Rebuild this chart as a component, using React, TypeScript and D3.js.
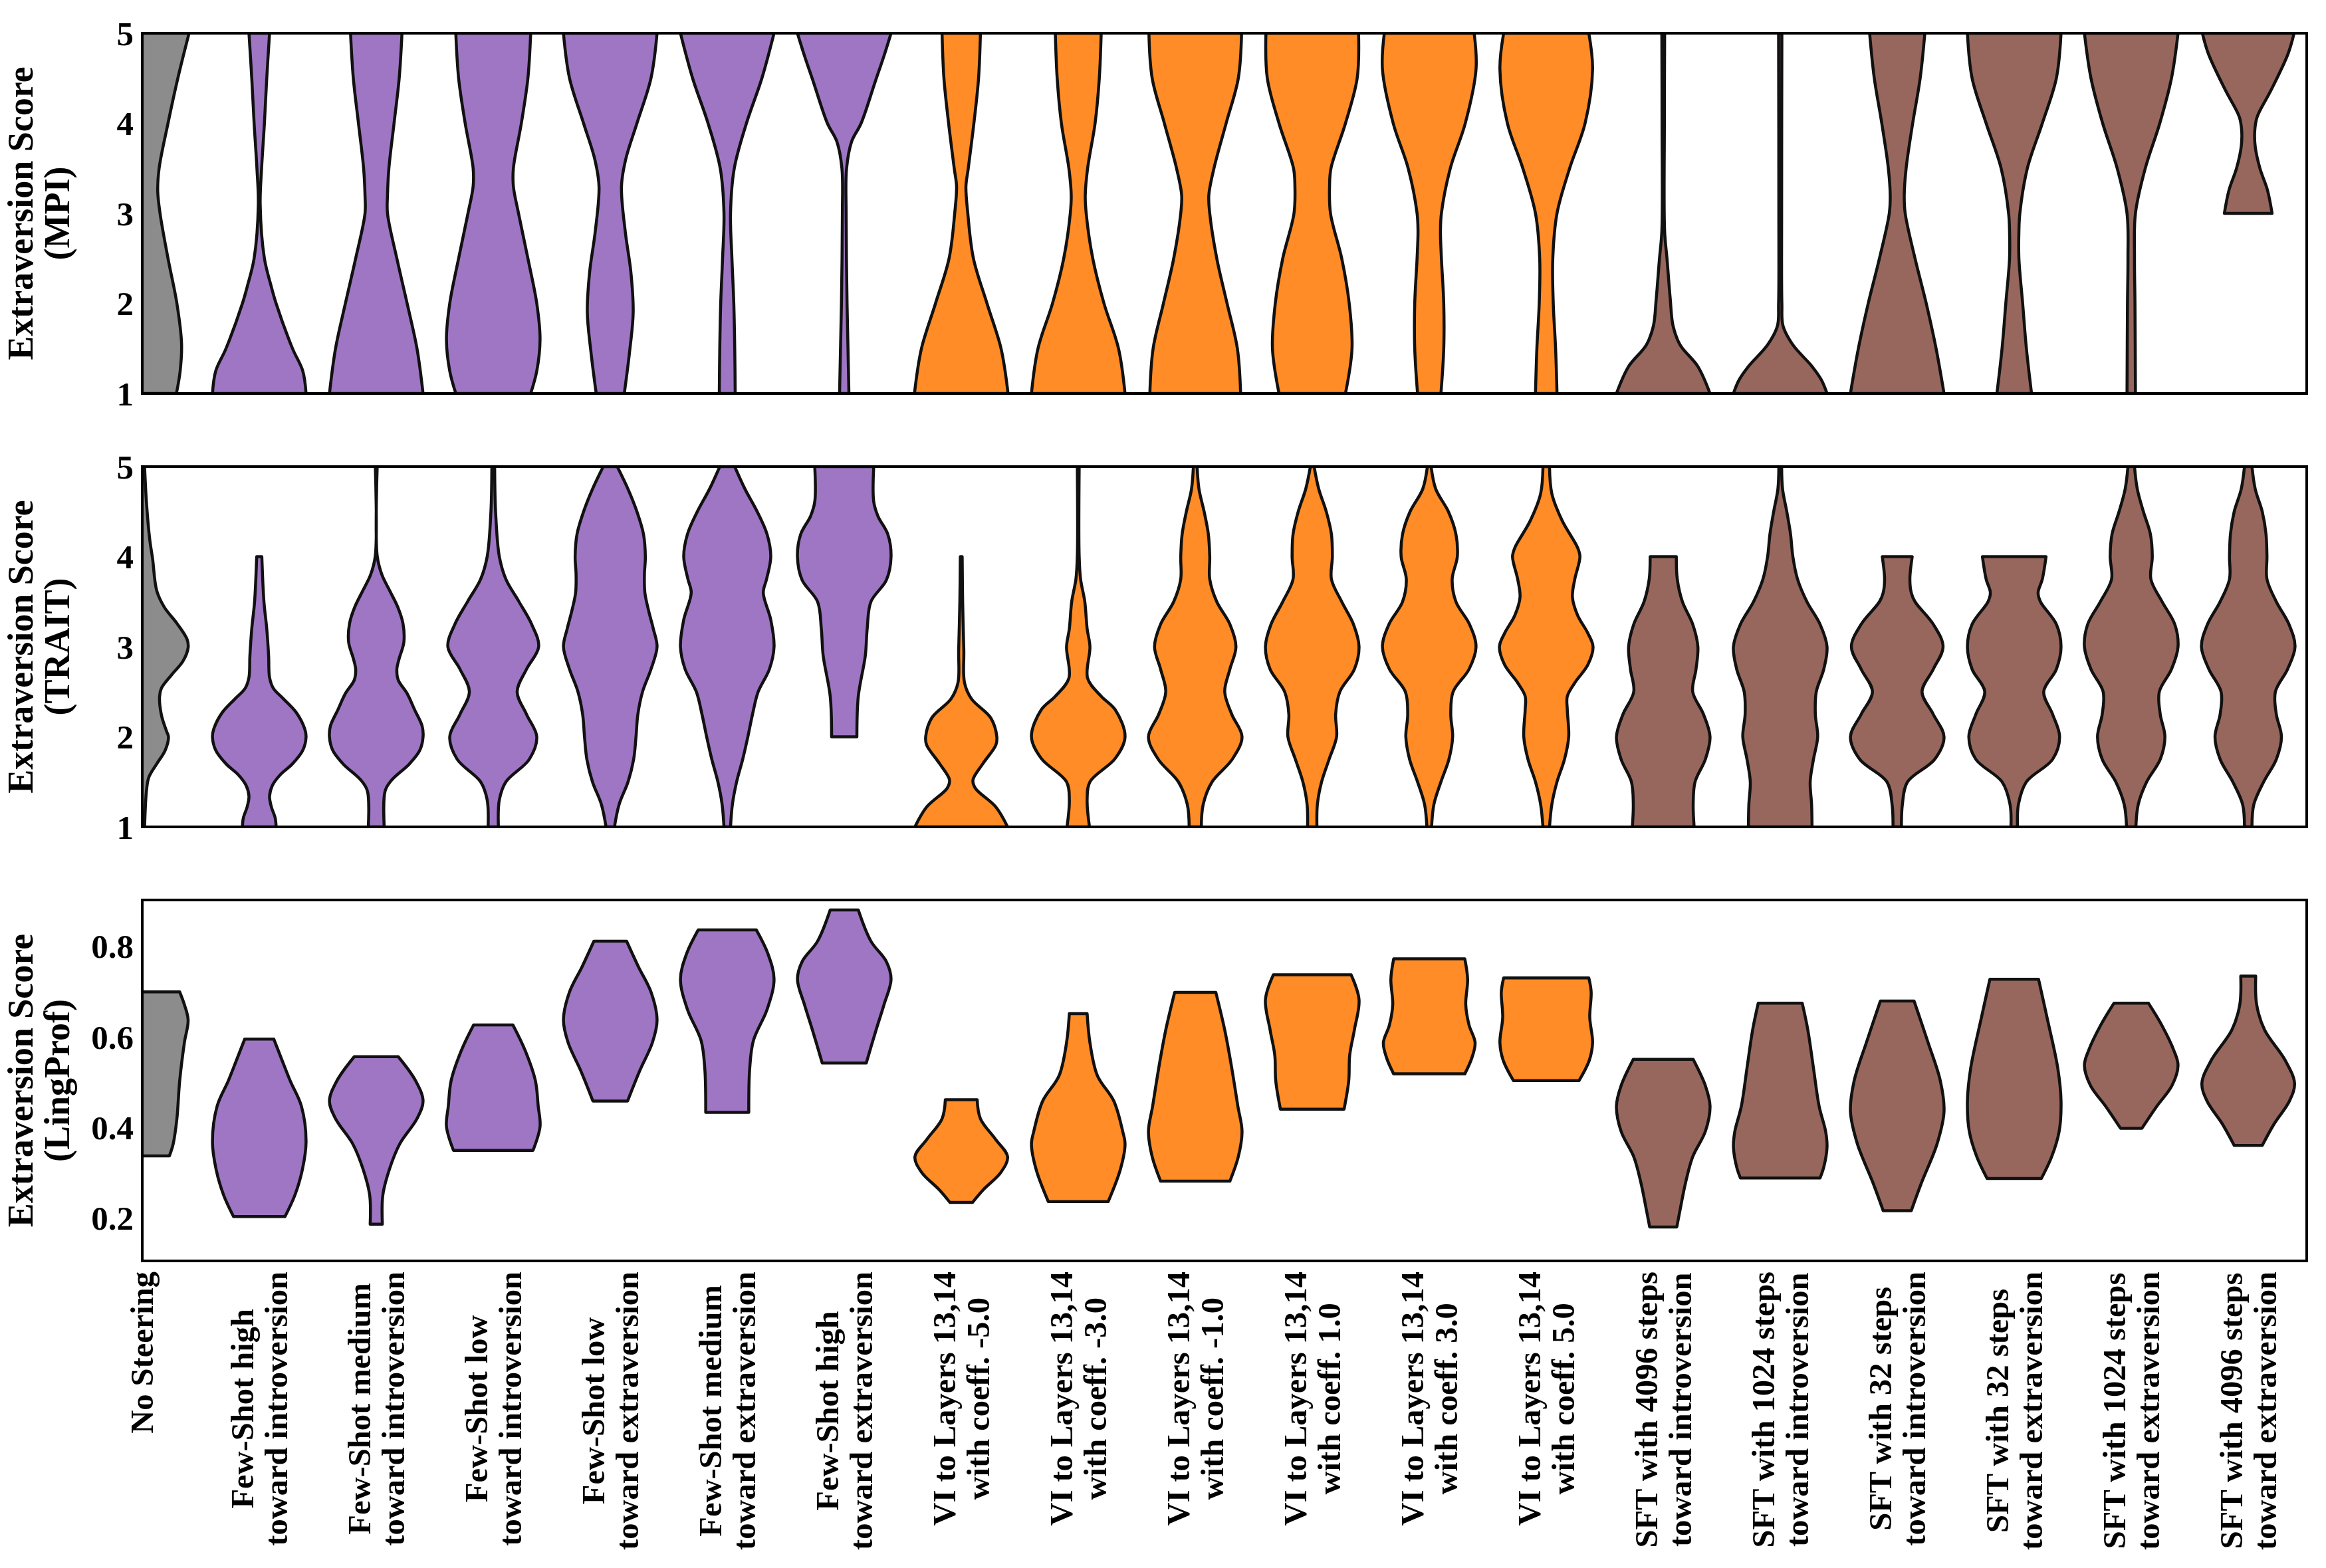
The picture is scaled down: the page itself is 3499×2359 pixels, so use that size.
import { useEffect, useRef } from 'react';
import * as d3 from 'd3';

// [score, relative half-width] knots, from the lowest score up to the highest
type Knot = [number, number];

const categories = [
  'No Steering',
  'Few-Shot high\ntoward introversion',
  'Few-Shot medium\ntoward introversion',
  'Few-Shot low\ntoward introversion',
  'Few-Shot low\ntoward extraversion',
  'Few-Shot medium\ntoward extraversion',
  'Few-Shot high\ntoward extraversion',
  'VI to Layers 13,14\nwith coeff. -5.0',
  'VI to Layers 13,14\nwith coeff. -3.0',
  'VI to Layers 13,14\nwith coeff. -1.0',
  'VI to Layers 13,14\nwith coeff. 1.0',
  'VI to Layers 13,14\nwith coeff. 3.0',
  'VI to Layers 13,14\nwith coeff. 5.0',
  'SFT with 4096 steps\ntoward introversion',
  'SFT with 1024 steps\ntoward introversion',
  'SFT with 32 steps\ntoward introversion',
  'SFT with 32 steps\ntoward extraversion',
  'SFT with 1024 steps\ntoward extraversion',
  'SFT with 4096 steps\ntoward extraversion',
];

// 0 = baseline, 1 = few-shot, 2 = vector injection, 3 = fine-tuning
const categoryGroup = [0, 1, 1, 1, 1, 1, 1, 2, 2, 2, 2, 2, 2, 3, 3, 3, 3, 3, 3];
const groupColors = ['#8c8c8c', '#9f76c4', '#ff8c26', '#97675d'];

const scoreTicks = [1, 2, 3, 4, 5];
const lingProfTicks = [0.2, 0.4, 0.6, 0.8];

const mpiShapes: Knot[][] = [
  [[1, 0.73], [1.25, 0.81], [1.55, 0.84], [2, 0.74], [2.5, 0.55], [3, 0.38], [3.25, 0.33], [3.5, 0.36], [4, 0.55], [4.5, 0.76], [5, 1.0]],
  [[1, 1.0], [1.25, 0.93], [1.5, 0.71], [2, 0.36], [2.2, 0.25], [2.5, 0.11], [3.1, 0.02], [3.5, 0.05], [4, 0.11], [4.5, 0.16], [5, 0.22]],
  [[1, 1.0], [1.5, 0.87], [2, 0.66], [2.5, 0.44], [3, 0.24], [3.2, 0.24], [3.5, 0.27], [4, 0.38], [4.5, 0.49], [5, 0.55]],
  [[1, 0.8], [1.25, 0.93], [1.6, 1.0], [2, 0.93], [2.5, 0.74], [3, 0.54], [3.3, 0.43], [3.5, 0.43], [4, 0.6], [4.5, 0.74], [5, 0.8]],
  [[1, 0.3], [1.45, 0.41], [1.9, 0.49], [2.35, 0.44], [2.8, 0.32], [3.3, 0.24], [3.6, 0.33], [4, 0.57], [4.5, 0.87], [5, 1.0]],
  [[1, 0.17], [1.5, 0.16], [2, 0.14], [2.5, 0.1], [3, 0.07], [3.5, 0.15], [4, 0.41], [4.5, 0.74], [5, 1.0]],
  [[1, 0.1], [1.5, 0.08], [2, 0.06], [3, 0.04], [3.5, 0.05], [3.8, 0.16], [4, 0.36], [4.46, 0.66], [4.75, 0.85], [5, 1.0]],
  [[1, 1.0], [1.5, 0.85], [2, 0.55], [2.5, 0.26], [3, 0.14], [3.3, 0.1], [3.5, 0.15], [4, 0.27], [4.5, 0.37], [5, 0.41]],
  [[1, 1.0], [1.5, 0.86], [2, 0.55], [2.5, 0.31], [3, 0.17], [3.2, 0.15], [3.5, 0.2], [4, 0.36], [4.5, 0.45], [5, 0.49]],
  [[1, 0.97], [1.5, 0.9], [2, 0.68], [2.5, 0.46], [3, 0.31], [3.2, 0.29], [3.5, 0.4], [4, 0.66], [4.5, 0.92], [5, 0.99]],
  [[1, 0.71], [1.5, 0.85], [2, 0.79], [2.5, 0.63], [3, 0.39], [3.3, 0.37], [3.5, 0.4], [4, 0.71], [4.5, 0.96], [5, 0.99]],
  [[1, 0.25], [1.5, 0.31], [2, 0.31], [2.5, 0.26], [2.8, 0.24], [3, 0.26], [3.5, 0.45], [4, 0.77], [4.6, 1.0], [5, 0.96]],
  [[1, 0.23], [1.5, 0.2], [2, 0.15], [2.5, 0.14], [3, 0.23], [3.5, 0.5], [4, 0.83], [4.6, 0.99], [5, 0.91]],
  [[1, 1.0], [1.3, 0.74], [1.54, 0.36], [1.75, 0.21], [2.05, 0.15], [2.5, 0.08], [2.8, 0.03], [4, 0.025], [5, 0.03]],
  [[1, 1.0], [1.15, 0.88], [1.3, 0.68], [1.54, 0.27], [1.75, 0.06], [2, 0.035], [3, 0.03], [5, 0.035]],
  [[1, 1.0], [1.5, 0.83], [2, 0.62], [2.5, 0.38], [3, 0.17], [3.2, 0.15], [3.5, 0.19], [4, 0.33], [4.5, 0.49], [5, 0.59]],
  [[1, 0.37], [1.5, 0.26], [2, 0.18], [2.5, 0.1], [2.8, 0.1], [3, 0.12], [3.5, 0.28], [4, 0.6], [4.5, 0.9], [5, 1.0]],
  [[1, 0.09], [2, 0.08], [2.5, 0.07], [3, 0.09], [3.5, 0.3], [4, 0.61], [4.5, 0.86], [5, 1.0]],
  [[3, 0.51], [3.26, 0.41], [3.5, 0.25], [3.74, 0.15], [3.92, 0.14], [4.07, 0.19], [4.37, 0.49], [4.77, 0.85], [5, 0.98]],
];

const traitShapes: Knot[][] = [
  [[1, 0.05], [1.4, 0.09], [1.55, 0.14], [1.7, 0.31], [1.85, 0.49], [2, 0.56], [2.06, 0.52], [2.24, 0.41], [2.45, 0.37], [2.54, 0.41], [2.69, 0.63], [2.84, 0.87], [2.99, 0.98], [3.08, 0.96], [3.26, 0.74], [3.44, 0.47], [3.62, 0.31], [3.98, 0.22], [4.19, 0.16], [4.6, 0.09], [5, 0.05]],
  [[1, 0.36], [1.1, 0.34], [1.22, 0.26], [1.34, 0.22], [1.46, 0.28], [1.58, 0.45], [1.7, 0.71], [1.85, 0.93], [2, 1.0], [2.09, 0.97], [2.27, 0.79], [2.42, 0.52], [2.54, 0.3], [2.66, 0.22], [2.9, 0.2], [3.2, 0.16], [3.5, 0.1], [4, 0.055]],
  [[1, 0.17], [1.4, 0.19], [1.52, 0.33], [1.7, 0.71], [1.85, 0.93], [2, 1.0], [2.12, 0.98], [2.3, 0.82], [2.48, 0.66], [2.63, 0.47], [2.75, 0.44], [2.87, 0.49], [3.05, 0.59], [3.26, 0.57], [3.44, 0.46], [3.62, 0.29], [3.8, 0.12], [4.01, 0.02], [5, 0.02]],
  [[1, 0.11], [1.3, 0.13], [1.5, 0.27], [1.75, 0.77], [2, 0.93], [2.25, 0.71], [2.5, 0.51], [2.75, 0.71], [3, 0.97], [3.25, 0.82], [3.5, 0.55], [3.75, 0.27], [4, 0.13], [4.5, 0.05], [5, 0.03]],
  [[1, 0.09], [1.25, 0.19], [1.5, 0.38], [1.75, 0.5], [2, 0.55], [2.25, 0.59], [2.5, 0.69], [2.75, 0.87], [3, 1.0], [3.2, 0.92], [3.4, 0.82], [3.6, 0.74], [3.8, 0.73], [4, 0.75], [4.25, 0.71], [4.5, 0.57], [4.75, 0.38], [5, 0.15]],
  [[1, 0.07], [1.25, 0.11], [1.5, 0.2], [1.75, 0.33], [2, 0.44], [2.25, 0.54], [2.5, 0.66], [2.75, 0.9], [3, 1.0], [3.3, 0.93], [3.6, 0.77], [3.75, 0.84], [4, 0.93], [4.25, 0.85], [4.5, 0.64], [4.75, 0.38], [5, 0.16]],
  [[2, 0.27], [2.45, 0.3], [2.9, 0.45], [3.2, 0.49], [3.5, 0.57], [3.74, 0.9], [4, 1.0], [4.25, 0.93], [4.45, 0.72], [4.61, 0.63], [5, 0.63]],
  [[1, 0.99], [1.22, 0.74], [1.43, 0.3], [1.52, 0.25], [1.7, 0.46], [1.91, 0.74], [2, 0.76], [2.21, 0.63], [2.42, 0.22], [2.6, 0.07], [2.96, 0.055], [3.5, 0.03], [4, 0.02]],
  [[1, 0.24], [1.3, 0.19], [1.5, 0.25], [1.76, 0.79], [2, 1.0], [2.3, 0.79], [2.45, 0.49], [2.65, 0.2], [3, 0.25], [3.2, 0.19], [3.5, 0.14], [3.75, 0.05], [4, 0.02], [5, 0.02]],
  [[1, 0.13], [1.25, 0.17], [1.5, 0.36], [1.75, 0.79], [2, 1.0], [2.25, 0.78], [2.5, 0.63], [2.75, 0.74], [3, 0.87], [3.25, 0.74], [3.5, 0.46], [3.75, 0.31], [4, 0.31], [4.25, 0.28], [4.5, 0.19], [4.75, 0.08], [5, 0.04]],
  [[1, 0.1], [1.25, 0.11], [1.5, 0.2], [1.75, 0.36], [2, 0.52], [2.25, 0.5], [2.5, 0.59], [2.75, 0.9], [3, 1.0], [3.25, 0.88], [3.5, 0.63], [3.75, 0.41], [4, 0.43], [4.25, 0.41], [4.5, 0.3], [4.75, 0.14], [5, 0.04]],
  [[1, 0.05], [1.25, 0.1], [1.5, 0.25], [1.75, 0.42], [2, 0.5], [2.25, 0.46], [2.5, 0.51], [2.75, 0.85], [3, 1.0], [3.25, 0.86], [3.5, 0.57], [3.75, 0.49], [4, 0.6], [4.25, 0.57], [4.5, 0.41], [4.75, 0.14], [5, 0.04]],
  [[1, 0.07], [1.25, 0.12], [1.5, 0.23], [1.75, 0.39], [2, 0.48], [2.3, 0.45], [2.45, 0.45], [2.6, 0.61], [2.8, 0.89], [3, 1.0], [3.15, 0.89], [3.35, 0.67], [3.55, 0.56], [3.75, 0.61], [4, 0.72], [4.1, 0.67], [4.4, 0.34], [4.7, 0.12], [5, 0.07]],
  [[1, 0.66], [1.25, 0.64], [1.5, 0.68], [1.75, 0.9], [2, 1.0], [2.25, 0.86], [2.5, 0.63], [2.75, 0.7], [3, 0.74], [3.25, 0.63], [3.5, 0.41], [3.75, 0.3], [4, 0.28]],
  [[1, 0.68], [1.25, 0.67], [1.5, 0.64], [1.75, 0.71], [2, 0.8], [2.25, 0.75], [2.5, 0.77], [2.75, 0.93], [3, 1.0], [3.25, 0.85], [3.5, 0.57], [3.75, 0.37], [4, 0.27], [4.25, 0.22], [4.5, 0.14], [4.75, 0.05], [5, 0.03]],
  [[1, 0.09], [1.25, 0.11], [1.5, 0.22], [1.75, 0.8], [2, 1.0], [2.25, 0.77], [2.5, 0.53], [2.75, 0.77], [3, 0.98], [3.25, 0.77], [3.5, 0.38], [3.6, 0.3], [3.75, 0.27], [4, 0.32]],
  [[1, 0.07], [1.25, 0.09], [1.5, 0.26], [1.75, 0.82], [2, 0.97], [2.25, 0.82], [2.5, 0.63], [2.75, 0.9], [3, 1.0], [3.25, 0.9], [3.5, 0.56], [3.6, 0.51], [3.75, 0.6], [4, 0.68]],
  [[1, 0.1], [1.25, 0.15], [1.5, 0.33], [1.75, 0.62], [2, 0.72], [2.25, 0.62], [2.5, 0.6], [2.75, 0.86], [3, 1.0], [3.25, 0.93], [3.5, 0.66], [3.75, 0.42], [4, 0.45], [4.25, 0.41], [4.5, 0.26], [4.75, 0.13], [5, 0.07]],
  [[1, 0.08], [1.25, 0.12], [1.5, 0.33], [1.75, 0.6], [2, 0.71], [2.25, 0.6], [2.5, 0.58], [2.75, 0.84], [3, 1.0], [3.25, 0.87], [3.5, 0.6], [3.75, 0.4], [4, 0.4], [4.25, 0.38], [4.5, 0.3], [4.75, 0.15], [5, 0.08]],
];

const lingProfShapes: Knot[][] = [
  [[0.337, 0.58], [0.363, 0.66], [0.419, 0.74], [0.503, 0.8], [0.587, 0.9], [0.637, 0.98], [0.671, 0.9], [0.699, 0.8]],
  [[0.203, 0.55], [0.25, 0.76], [0.306, 0.92], [0.368, 1.0], [0.447, 0.9], [0.503, 0.66], [0.55, 0.48], [0.595, 0.31]],
  [[0.186, 0.13], [0.25, 0.14], [0.307, 0.28], [0.363, 0.5], [0.419, 0.87], [0.458, 1.0], [0.503, 0.84], [0.556, 0.47]],
  [[0.349, 0.85], [0.402, 1.0], [0.447, 0.96], [0.503, 0.9], [0.57, 0.68], [0.626, 0.42]],
  [[0.458, 0.37], [0.525, 0.63], [0.587, 0.9], [0.637, 1.0], [0.699, 0.87], [0.755, 0.6], [0.811, 0.35]],
  [[0.433, 0.46], [0.53, 0.48], [0.592, 0.56], [0.66, 0.85], [0.727, 1.0], [0.783, 0.87], [0.836, 0.62]],
  [[0.542, 0.47], [0.615, 0.68], [0.671, 0.85], [0.727, 1.0], [0.766, 0.9], [0.811, 0.57], [0.88, 0.3]],
  [[0.234, 0.24], [0.262, 0.47], [0.301, 0.85], [0.335, 0.99], [0.374, 0.73], [0.419, 0.41], [0.461, 0.34]],
  [[0.236, 0.64], [0.307, 0.9], [0.363, 1.0], [0.391, 0.95], [0.458, 0.76], [0.514, 0.41], [0.587, 0.25], [0.651, 0.19]],
  [[0.281, 0.74], [0.335, 0.92], [0.391, 1.0], [0.447, 0.91], [0.531, 0.78], [0.615, 0.63], [0.698, 0.44]],
  [[0.44, 0.68], [0.503, 0.78], [0.559, 0.8], [0.615, 0.9], [0.682, 1.0], [0.737, 0.83]],
  [[0.518, 0.76], [0.553, 0.91], [0.587, 0.98], [0.626, 0.85], [0.671, 0.78], [0.727, 0.82], [0.772, 0.76]],
  [[0.503, 0.7], [0.548, 0.92], [0.587, 0.99], [0.643, 0.93], [0.699, 0.96], [0.73, 0.91]],
  [[0.18, 0.29], [0.223, 0.37], [0.279, 0.48], [0.335, 0.63], [0.391, 0.9], [0.447, 1.0], [0.492, 0.9], [0.55, 0.64]],
  [[0.288, 0.85], [0.312, 0.93], [0.357, 1.0], [0.391, 0.97], [0.447, 0.83], [0.531, 0.71], [0.615, 0.59], [0.674, 0.47]],
  [[0.216, 0.3], [0.278, 0.52], [0.363, 0.85], [0.435, 1.0], [0.503, 0.92], [0.587, 0.66], [0.679, 0.36]],
  [[0.287, 0.58], [0.335, 0.8], [0.391, 0.96], [0.458, 1.0], [0.531, 0.93], [0.643, 0.7], [0.727, 0.52]],
  [[0.398, 0.23], [0.447, 0.55], [0.492, 0.87], [0.537, 1.0], [0.57, 0.91], [0.626, 0.65], [0.674, 0.37]],
  [[0.36, 0.3], [0.407, 0.55], [0.458, 0.88], [0.497, 0.99], [0.548, 0.79], [0.615, 0.35], [0.671, 0.18], [0.734, 0.16]],
];

const WIDTH = 3499;
const HEIGHT = 2359;
const PLOT_LEFT = 214;
const PLOT_RIGHT = 3470;
const FONT = "'Liberation Serif', 'Times New Roman', serif";

interface Panel {
  key: string;
  top: number;
  bottom: number;
  domain: [number, number];
  ticks: number[];
  tickFormat: (v: number) => string;
  title: string[];
  shapes: Knot[][];
}

const panels: Panel[] = [
  { key: 'mpi', top: 50, bottom: 592, domain: [1, 5], ticks: scoreTicks, tickFormat: d3.format('d'), title: ['Extraversion Score', '(MPI)'], shapes: mpiShapes },
  { key: 'trait', top: 702, bottom: 1244, domain: [1, 5], ticks: scoreTicks, tickFormat: d3.format('d'), title: ['Extraversion Score', '(TRAIT)'], shapes: traitShapes },
  { key: 'lingprof', top: 1354, bottom: 1897, domain: [0.105, 0.902], ticks: lingProfTicks, tickFormat: d3.format('.1f'), title: ['Extraversion Score', '(LingProf)'], shapes: lingProfShapes },
];

export default function App() {
  const svgRef = useRef<SVGSVGElement>(null);

  useEffect(() => {
    if (!svgRef.current) return;
    const svg = d3.select(svgRef.current);
    svg.selectAll('*').remove();

    // categories sit at integer positions; the first one lands on the left spine
    const x = d3.scaleLinear().domain([0, categories.length - 0.5]).range([PLOT_LEFT, PLOT_RIGHT]);
    const halfWidth = x(0.4) - x(0);

    panels.forEach((p) => {
      const y = d3.scaleLinear().domain(p.domain).range([p.bottom, p.top]);
      const clipId = `clip-${p.key}`;

      svg.append('clipPath')
        .attr('id', clipId)
        .append('rect')
        .attr('x', PLOT_LEFT)
        .attr('y', p.top)
        .attr('width', PLOT_RIGHT - PLOT_LEFT)
        .attr('height', p.bottom - p.top);

      const g = svg.append('g').attr('clip-path', `url(#${clipId})`);

      p.shapes.forEach((knots, i) => {
        const cx = x(i);
        const area = d3.area<Knot>()
          .y(d => y(d[0]))
          .x0(d => cx - d[1] * halfWidth)
          .x1(d => cx + d[1] * halfWidth)
          .curve(d3.curveCatmullRom.alpha(0.5));

        g.append('path')
          .attr('d', area(knots))
          .attr('fill', groupColors[categoryGroup[i]])
          .attr('stroke', '#111')
          .attr('stroke-width', 4.5)
          .attr('stroke-linejoin', 'round');
      });

      // frame
      svg.append('rect')
        .attr('x', PLOT_LEFT)
        .attr('y', p.top)
        .attr('width', PLOT_RIGHT - PLOT_LEFT)
        .attr('height', p.bottom - p.top)
        .attr('fill', 'none')
        .attr('stroke', '#000')
        .attr('stroke-width', 4);

      // y tick labels
      svg.append('g')
        .selectAll('text')
        .data(p.ticks)
        .enter()
        .append('text')
        .attr('x', PLOT_LEFT - 13)
        .attr('y', d => y(d))
        .attr('dy', '0.35em')
        .attr('text-anchor', 'end')
        .attr('font-family', FONT)
        .attr('font-weight', 'bold')
        .attr('font-size', 51)
        .text(d => p.tickFormat(d));

      // y axis title, two centred lines
      const title = svg.append('g')
        .attr('transform', `translate(0, ${(p.top + p.bottom) / 2}) rotate(-90)`);
      p.title.forEach((line, j) => {
        title.append('text')
          .attr('x', 0)
          .attr('y', j === 0 ? 49 : 104)
          .attr('text-anchor', 'middle')
          .attr('font-family', FONT)
          .attr('font-weight', 'bold')
          .attr('font-size', 54)
          .text(line);
      });
    });

    // rotated category labels under the last panel
    const labelTop = 1913;
    const labelSize = 48.5;
    const linePitch = 51;
    categories.forEach((label, i) => {
      const lines = label.split('\n');
      const lg = svg.append('g')
        .attr('transform', `translate(${x(i)}, ${labelTop}) rotate(-90)`);
      const texts = lines.map((line, j) =>
        lg.append('text')
          .attr('y', (j - (lines.length - 1) / 2) * linePitch + labelSize * 0.33)
          .attr('text-anchor', 'middle')
          .attr('font-family', FONT)
          .attr('font-weight', 'bold')
          .attr('font-size', labelSize)
          .text(line)
      );
      const longest = d3.max(texts, t => (t.node() as SVGTextElement).getComputedTextLength()) ?? 0;
      texts.forEach(t => t.attr('x', -longest / 2));
    });
  }, []);

  return (
    <svg
      ref={svgRef}
      width={WIDTH}
      height={HEIGHT}
      style={{ position: 'absolute', left: 0, top: 0, background: '#fff' }}
    />
  );
}
